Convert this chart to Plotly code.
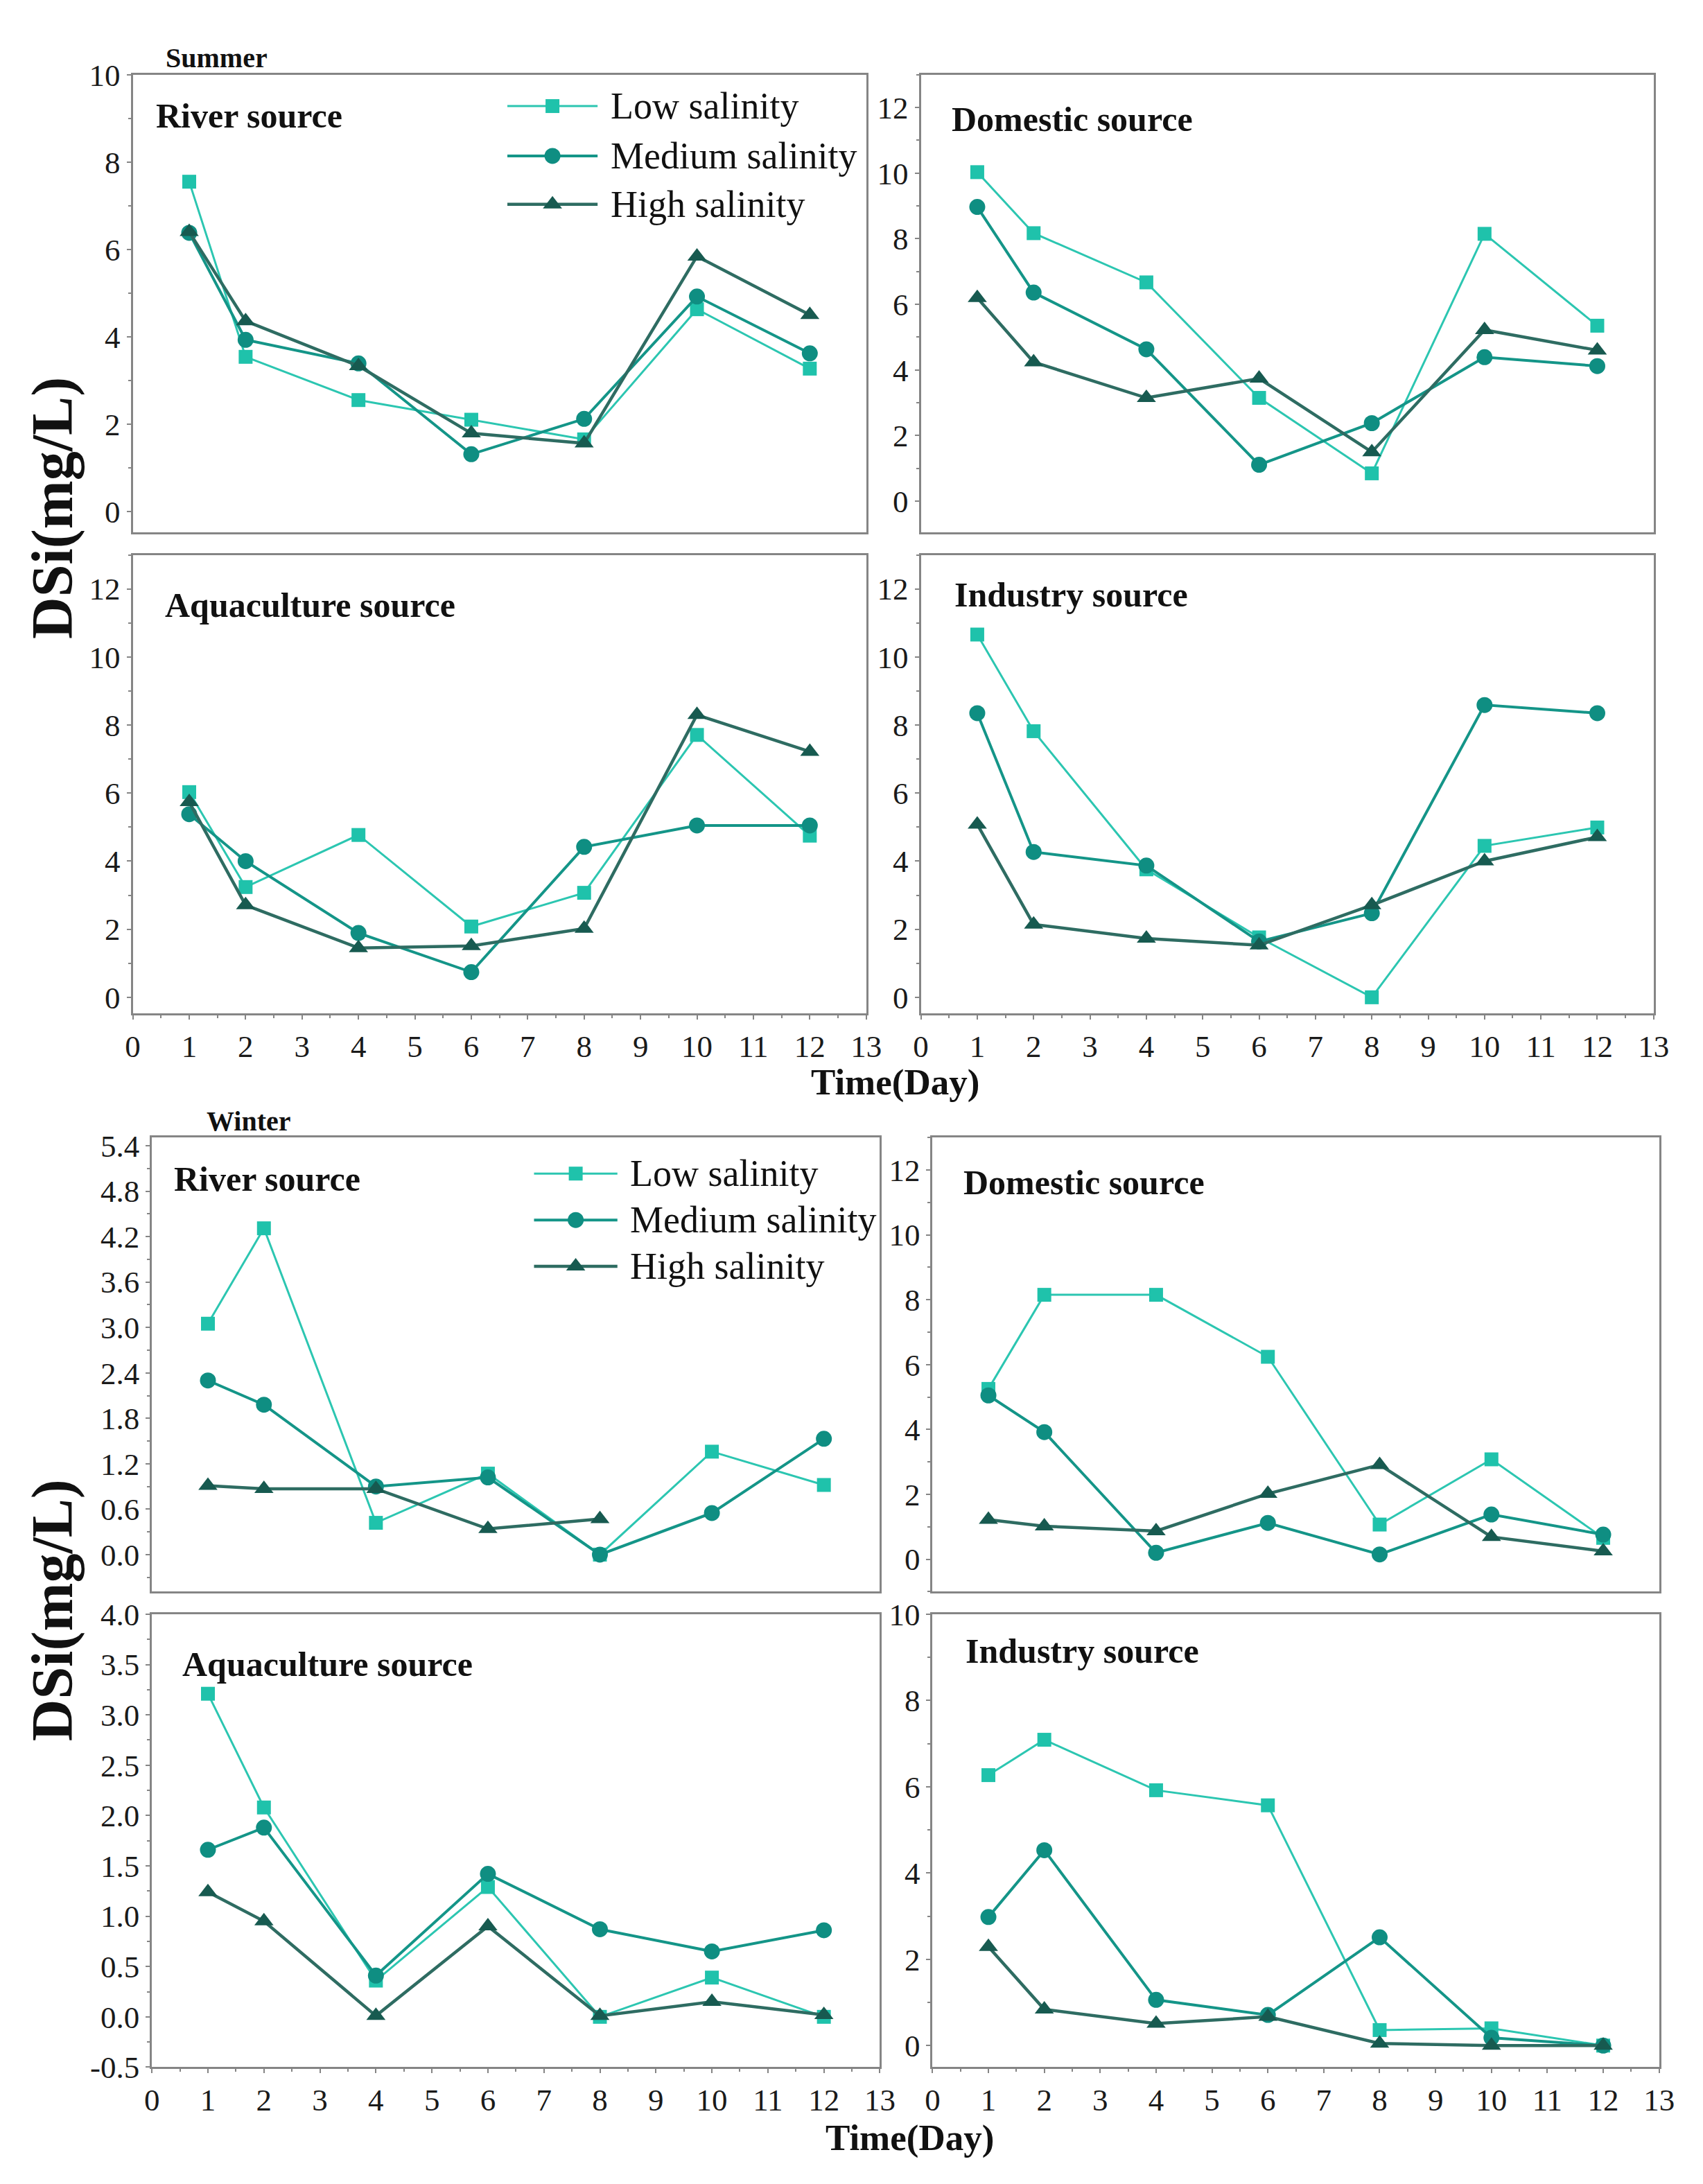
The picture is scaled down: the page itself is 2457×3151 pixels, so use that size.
import plotly.graph_objects as go

W, H = 2457, 3151

# ---------------- data ----------------
days = [1, 2, 4, 6, 8, 10, 12]
salinity_labels = ["Low salinity", "Medium salinity", "High salinity"]
source_labels = ["River source", "Domestic source", "Aquaculture source", "Industry source"]
season_labels = ["Summer", "Winter"]
x_tick_values = list(range(0, 14))

summer_river_low = [7.55, 3.54, 2.55, 2.10, 1.65, 4.63, 3.27]
summer_river_med = [6.38, 3.93, 3.39, 1.31, 2.12, 4.92, 3.62]
summer_river_high = [6.40, 4.36, 3.33, 1.79, 1.56, 5.84, 4.50]
summer_dom_low = [10.03, 8.17, 6.67, 3.15, 0.85, 8.15, 5.35]
summer_dom_med = [8.97, 6.36, 4.63, 1.11, 2.38, 4.39, 4.12]
summer_dom_high = [6.20, 4.24, 3.15, 3.74, 1.50, 5.22, 4.60]
summer_aqua_low = [6.03, 3.24, 4.77, 2.08, 3.07, 7.71, 4.75]
summer_aqua_med = [5.38, 4.00, 1.89, 0.74, 4.42, 5.05, 5.05]
summer_aqua_high = [5.74, 2.71, 1.45, 1.51, 2.02, 8.30, 7.22]
summer_ind_low = [10.66, 7.82, 3.76, 1.76, 0.00, 4.45, 4.99]
summer_ind_med = [8.35, 4.27, 3.87, 1.64, 2.47, 8.59, 8.35]
summer_ind_high = [5.08, 2.14, 1.73, 1.53, 2.71, 4.00, 4.71]

winter_river_low = [3.05, 4.31, 0.42, 1.07, 0.00, 1.36, 0.92]
winter_river_med = [2.30, 1.98, 0.90, 1.02, 0.00, 0.55, 1.53]
winter_river_high = [0.91, 0.87, 0.87, 0.34, 0.47, None, None]
winter_dom_low = [5.25, 8.15, 8.15, 6.24, 1.07, 3.08, 0.66]
winter_dom_med = [5.05, 3.92, 0.20, 1.12, 0.15, 1.38, 0.76]
winter_dom_high = [1.22, 1.02, 0.87, 2.02, 2.91, 0.69, 0.25]
winter_aqua_low = [3.21, 2.08, 0.36, 1.29, 0.00, 0.39, 0.00]
winter_aqua_med = [1.66, 1.88, 0.41, 1.42, 0.87, 0.65, 0.86]
winter_aqua_high = [1.24, 0.95, 0.01, 0.90, 0.01, 0.15, 0.02]
winter_ind_low = [6.27, 7.09, 5.92, 5.57, 0.36, 0.40, 0.00]
winter_ind_med = [2.98, 4.53, 1.06, 0.71, 2.51, 0.18, 0.00]
winter_ind_high = [2.29, 0.84, 0.51, 0.67, 0.05, 0.00, 0.00]

# y tick values per panel
yticks_s_river = [0, 2, 4, 6, 8, 10]
yticks_s_other = [0, 2, 4, 6, 8, 10, 12]
yticks_w_river = [0.0, 0.6, 1.2, 1.8, 2.4, 3.0, 3.6, 4.2, 4.8, 5.4]
yticks_w_dom = [0, 2, 4, 6, 8, 10, 12]
yticks_w_aqua = [-0.5, 0.0, 0.5, 1.0, 1.5, 2.0, 2.5, 3.0, 3.5, 4.0]
yticks_w_ind = [0, 2, 4, 6, 8, 10]

# ---------------- styles ----------------
FONT = "Liberation Serif"
AXIS_COLOR = "#858585"
TEXT_COLOR = "#1a1a1a"
styles = [
    dict(line=dict(color="#2cc6b1", width=3), marker=dict(symbol="square", size=20, color="#1fc2ab")),
    dict(line=dict(color="#149588", width=4), marker=dict(symbol="circle", size=23, color="#0f8e82")),
    dict(line=dict(color="#2e6c62", width=4.5), marker=dict(symbol="triangle-up", size=24, color="#175a50")),
]


def px(x):
    return x / W


def py(y):
    return 1 - y / H


# panel: (series, box [x0,x1,y0,y1] px, yrange, yticks, decimals, show x labels, label index, label pos)
panels = [
    ([summer_river_low, summer_river_med, summer_river_high], (175, 1248, 77, 748), [-0.48, 10], yticks_s_river, 0, False, 0, (207, 137)),
    ([summer_dom_low, summer_dom_med, summer_dom_high], (1328, 2400, 77, 748), [-0.95, 13], yticks_s_other, 0, False, 1, (1371, 142)),
    ([summer_aqua_low, summer_aqua_med, summer_aqua_high], (175, 1248, 781, 1453), [-0.47, 13], yticks_s_other, 0, True, 2, (220, 855)),
    ([summer_ind_low, summer_ind_med, summer_ind_high], (1328, 2400, 781, 1453), [-0.47, 13], yticks_s_other, 0, True, 3, (1375, 839)),
    ([winter_river_low, winter_river_med, winter_river_high], (203, 1268, 1635, 2301), [-0.49, 5.51], yticks_w_river, 1, False, 0, (233, 1696)),
    ([winter_dom_low, winter_dom_med, winter_dom_high], (1345, 2408, 1635, 2301), [-1.0, 13], yticks_w_dom, 0, False, 1, (1388, 1701)),
    ([winter_aqua_low, winter_aqua_med, winter_aqua_high], (203, 1268, 2334, 2998), [-0.5, 4.0], yticks_w_aqua, 1, True, 2, (245, 2407)),
    ([winter_ind_low, winter_ind_med, winter_ind_high], (1345, 2408, 2334, 2998), [-0.5, 10], yticks_w_ind, 0, True, 3, (1391, 2388)),
]

fig = go.Figure()
layout = dict(
    width=W, height=H,
    margin=dict(l=0, r=0, t=0, b=0),
    paper_bgcolor="white", plot_bgcolor="rgba(0,0,0,0)",
    showlegend=False,
    font=dict(family=FONT, color=TEXT_COLOR),
)
annotations = []

for i, (series, box, yr, ytv, dec, showx, lab_idx, lab_pos) in enumerate(panels):
    n = i + 1
    xa = "x" if n == 1 else f"x{n}"
    ya = "y" if n == 1 else f"y{n}"
    x0, x1, y0, y1 = box
    for s, vals in enumerate(series):
        fig.add_trace(go.Scatter(
            x=days, y=vals, mode="lines+markers", name=salinity_labels[s],
            line=styles[s]["line"], marker=styles[s]["marker"],
            connectgaps=False, xaxis=xa, yaxis=ya, cliponaxis=False,
        ))
    xkey = "xaxis" if n == 1 else f"xaxis{n}"
    ykey = "yaxis" if n == 1 else f"yaxis{n}"
    ystep = ytv[1] - ytv[0]
    layout[xkey] = dict(
        domain=[px(x0), px(x1)], anchor=ya, range=[0, 13],
        tickmode="array", tickvals=x_tick_values,
        showticklabels=showx, ticks="outside" if showx else "",
        ticklen=6, tickwidth=2, tickcolor=AXIS_COLOR,
        minor=dict(ticks="outside" if showx else "", ticklen=4, tickwidth=2, tickcolor=AXIS_COLOR, dtick=0.5),
        showline=True, linecolor=AXIS_COLOR, linewidth=3, mirror=True,
        showgrid=False, zeroline=False,
        tickfont=dict(family=FONT, size=45, color=TEXT_COLOR),
    )
    layout[ykey] = dict(
        domain=[py(y1), py(y0)], anchor=xa, range=yr,
        tickmode="array", tickvals=ytv, ticktext=[f"{v:.{dec}f}" for v in ytv],
        ticks="outside", ticklen=6, tickwidth=2, tickcolor=AXIS_COLOR,
        minor=dict(ticks="outside", ticklen=4, tickwidth=2, tickcolor=AXIS_COLOR,
                   tick0=ytv[0], dtick=ystep / 2),
        showline=True, linecolor=AXIS_COLOR, linewidth=3, mirror=True,
        showgrid=False, zeroline=False,
        tickfont=dict(family=FONT, size=45, color=TEXT_COLOR),
    )
    annotations.append(dict(
        x=px(lab_pos[0]), y=py(lab_pos[1]), xref="paper", yref="paper",
        xanchor="left", yanchor="middle", showarrow=False,
        text=f"<b>{source_labels[lab_idx]}</b>",
        font=dict(family=FONT, size=50, color="#111111"),
    ))

# season labels
for label, (lx, ly) in zip(season_labels, [(221, 52), (281, 1611)]):
    annotations.append(dict(
        x=px(lx), y=py(ly), xref="paper", yref="paper", xanchor="left", yanchor="middle",
        showarrow=False, text=f"<b>{label}</b>", font=dict(family=FONT, size=40, color="#111111"),
    ))

# axis titles
for yy in [712, 2328]:
    annotations.append(dict(
        x=px(58), y=py(yy), xref="paper", yref="paper", xanchor="center", yanchor="middle",
        showarrow=False, textangle=-90, text="<b>DSi(mg/L)</b>",
        font=dict(family=FONT, size=84, color="#111111"),
    ))
for (tx, ty) in [(1290, 1554), (1312, 3102)]:
    annotations.append(dict(
        x=px(tx), y=py(ty), xref="paper", yref="paper", xanchor="center", yanchor="middle",
        showarrow=False, text="<b>Time(Day)</b>", font=dict(family=FONT, size=53, color="#111111"),
    ))

# manual legends on a transparent pixel overlay axis
layout["xaxis9"] = dict(domain=[0, 1], range=[0, W], visible=False, fixedrange=True, anchor="y9")
layout["yaxis9"] = dict(domain=[0, 1], range=[H, 0], visible=False, fixedrange=True, anchor="x9")
legend_specs = [
    (723, 855, 872, [123, 196, 267]),
    (762, 884, 900, [1688, 1756, 1824]),
]
for (lx0, lx1, tx, rows) in legend_specs:
    for s, ry in enumerate(rows):
        fig.add_trace(go.Scatter(
            x=[lx0, lx1], y=[ry, ry], mode="lines", line=styles[s]["line"],
            xaxis="x9", yaxis="y9", hoverinfo="skip",
        ))
        fig.add_trace(go.Scatter(
            x=[(lx0 + lx1) / 2], y=[ry], mode="markers", marker=styles[s]["marker"],
            xaxis="x9", yaxis="y9", hoverinfo="skip",
        ))
        annotations.append(dict(
            x=px(tx), y=py(ry), xref="paper", yref="paper", xanchor="left", yanchor="middle",
            showarrow=False, text=salinity_labels[s], font=dict(family=FONT, size=54, color="#111111"),
        ))

layout["annotations"] = annotations
fig.update_layout(**layout)
fig.write_html("out.html")
